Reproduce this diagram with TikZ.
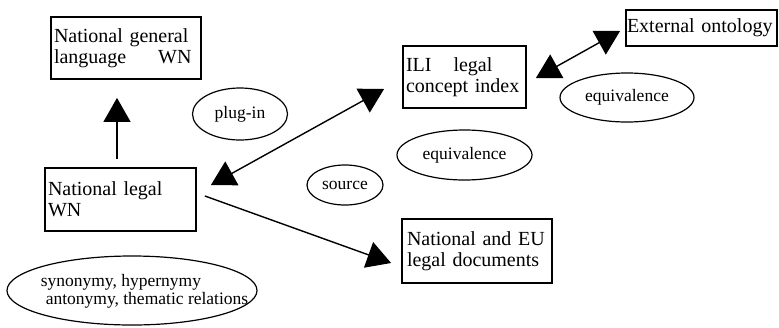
\documentclass[tikz,border=0pt]{standalone}
\usepackage{fontspec}
\setmainfont{Liberation Serif}
\usetikzlibrary{arrows.meta,shapes.geometric}
\begin{document}
\begin{tikzpicture}[x=1pt,y=-1pt,
        wnbox/.style={draw,line width=1.8pt,rectangle,inner xsep=3pt,
            align=left,font=\fontsize{20}{21}\selectfont},
        rel/.style={draw,line width=1.2pt,ellipse,inner sep=0pt,
            font=\fontsize{17.5}{18}\selectfont},
        bigarrow/.style={line width=1.4pt,-{Triangle[length=24pt,width=27pt]}},
        bothway/.style={line width=1.4pt,
            {Triangle[length=24pt,width=27pt]}-{Triangle[length=24pt,width=27pt]}}]
    \useasboundingbox (0,0) rectangle (779,327);

    % boxes
    \node[wnbox,text width=144pt,minimum height=62pt] (gen) at (126,48)
        {National general\\language\hspace{32pt}WN};
    \node[wnbox,text width=145pt,minimum height=63pt] (legal) at (120.5,199.5)
        {National legal\\WN};
    \node[wnbox,text width=117pt,minimum height=62pt] (ili) at (464.5,77)
        {ILI\hspace{22pt}legal\\concept index};
    \node[wnbox,text width=149pt,inner xsep=1pt,minimum height=36pt] (ext) at (701.5,28)
        {External ontology};
    \node[wnbox,text width=140pt,inner xsep=5pt,minimum height=64pt] (eu) at (477,251)
        {National and EU\\legal documents};

    % relations
    \node[rel,minimum width=95pt,minimum height=52pt] (plugin) at (240,114) {plug-in};
    \node[rel,minimum width=76pt,minimum height=40pt] (src) at (345,185) {source};
    \node[rel,minimum width=135pt,minimum height=50pt] (eqmid) at (464.5,155) {equivalence};
    \node[rel,minimum width=134pt,minimum height=49pt] (eqright) at (627,97.5) {equivalence};
    \node[rel,minimum width=250pt,minimum height=69pt] (syn) at (132,290.5) {};
    \node[align=left,inner sep=0pt,font=\fontsize{17.5}{18}\selectfont] (syntxt) at (144.5,291)
        {synonymy, hypernymy\\\hspace*{5pt}antonymy, thematic relations};

    % links
    \draw[bigarrow] ([shift={(-3.5,-8)}]legal.north) -- ([shift={(-9,18)}]gen.south);
    \draw[bothway] ([shift={(14,-14.5)}]legal.east) -- ([shift={(-18,12)}]ili.west);
    \draw[bigarrow] ([shift={(8,-3.5)}]legal.east) -- ([shift={(-10,12)}]eu.west);
    \draw[bothway] ([shift={(9,1)}]ili.east) -- ([shift={(-5,3)}]ext.west);
\end{tikzpicture}
\end{document}
